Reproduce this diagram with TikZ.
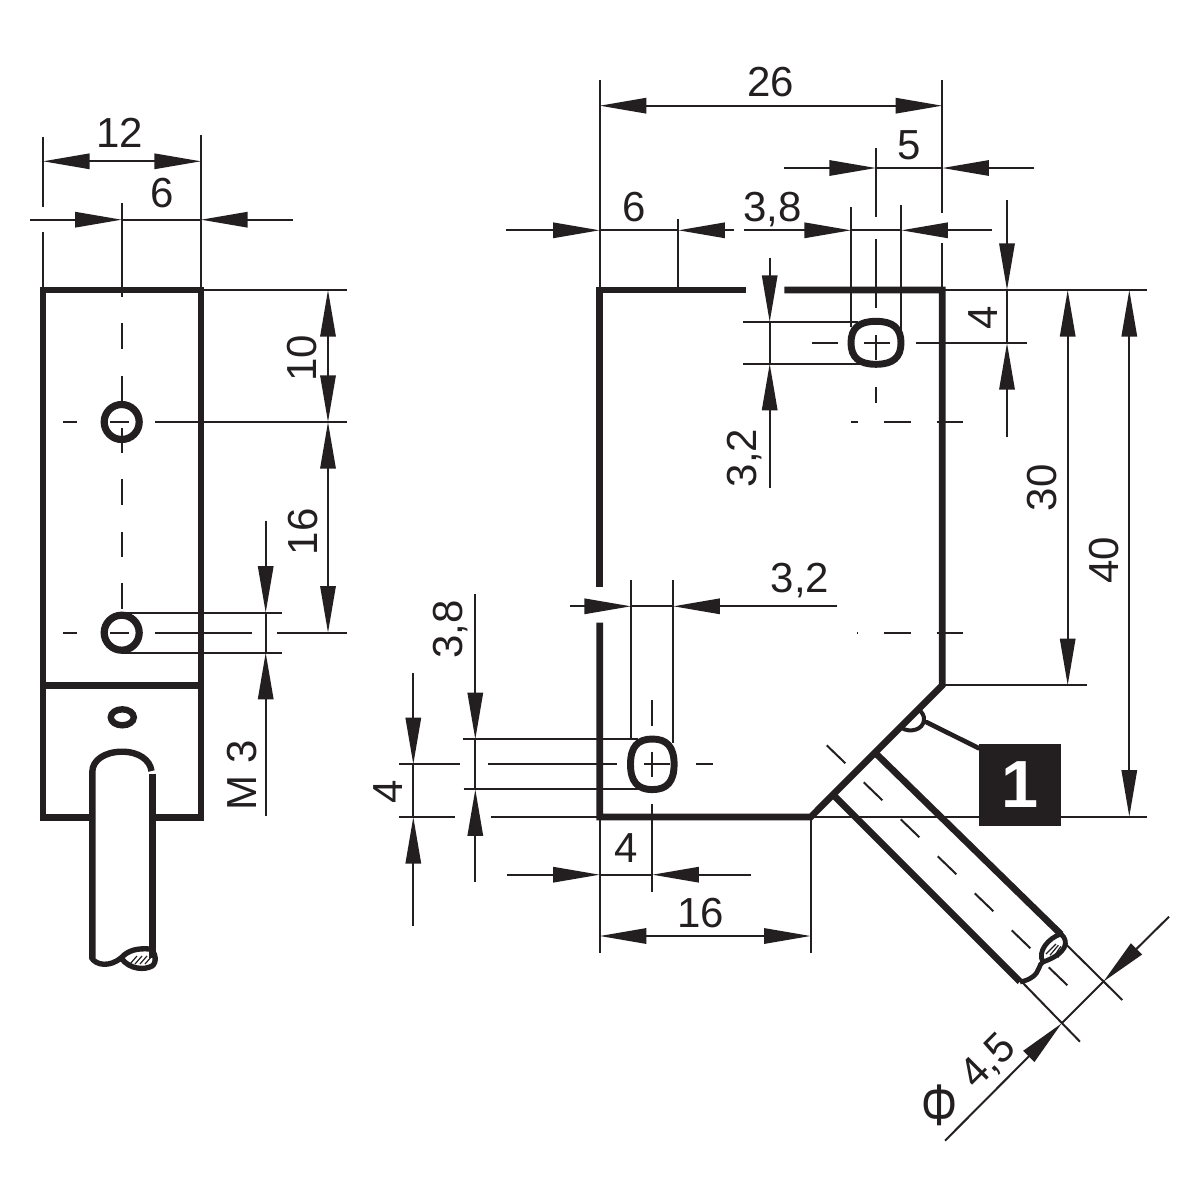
\documentclass[tikz,border=0pt]{standalone}
\usepackage{fontspec}
\usepackage{graphicx}
\setmainfont{Liberation Sans}
\usetikzlibrary{arrows.meta}
\definecolor{inkc}{HTML}{231F20}
\tikzset{
  outl/.style={line width=5pt,line cap=butt,line join=miter},
  thn/.style={line width=1.5pt},
  dimln/.style={line width=1.5pt,>={Triangle[length=35pt,width=11.5pt]}},
  slot/.style={line width=5.2pt},
  lbl/.style={inner sep=0pt,font=\fontsize{31.5}{34}\selectfont},
  lblv/.style={lbl,rotate=90},
  badge/.style={fill=inkc,text=white,inner sep=0pt,minimum size=61.5pt,font=\fontsize{50}{52}\bfseries\selectfont}
}
\begin{document}
\begin{tikzpicture}[x=0.75pt,y=0.75pt,yscale=-1,xscale=1,color=inkc]
\useasboundingbox (0,0) rectangle (1200,1200);

%Side view: extension lines
\draw [thn] (43,137) -- (43,207) (43,232) -- (43,290);
\draw [thn] (201,135) -- (201,290) -- (347,290);
\draw [thn] (121.7,203) -- (121.7,297);
\foreach \ya/\yb in {323/349,376/403,428/453,479/505,532/557,583/609}
  \draw [thn] (121.7,\ya) -- (121.7,\yb);
\foreach \yc in {422,632.7} {
  \draw [thn] (63,\yc) -- (77,\yc);
  \draw [thn] (110,\yc) -- (129,\yc);
}
\draw [thn] (155,422) -- (347,422);
\draw [thn] (155,632.7) -- (252,632.7) (277,632.7) -- (347,632.7);
\draw [thn] (121,612.7) -- (282,612.7) (121,652.7) -- (282,652.7);

%Side view: dimensions
\draw [dimln,<->] (43,161.3) -- (201,161.3);
\draw [dimln,->] (30,219.7) -- (121.7,219.7);
\draw [dimln] (121.7,219.7) -- (201,219.7);
\draw [dimln,->] (293,219.7) -- (201,219.7);
\draw [dimln,<->] (328,290) -- (328,422);
\draw [dimln,<->] (328,422) -- (328,632.7);
\draw [dimln,->] (265.7,520.7) -- (265.7,612.7);
\draw [dimln] (265.7,612.7) -- (265.7,652.7);
\draw [dimln,->] (265.7,816) -- (265.7,652.7);

%Side view: body
\draw [outl] (92.3,817.3) -- (43,817.3) -- (43,290) -- (201,290) -- (201,817.3) -- (152.3,817.3);
\draw [outl] (43,685.7) -- (201,685.7);
\draw [line width=5.4pt] (121.7,422) circle [radius=17.5];
\draw [line width=5.4pt] (121.7,632.7) circle [radius=17.5];
\draw [line width=4.8pt] (122.3,717.3) ellipse [x radius=11.5,y radius=8];

%Side view: cable
\draw [line width=4.8pt] (92.3,958) -- (92.3,772) .. controls (92.3,760) and (105,751.7) .. (122,751.7) .. controls (139,751.7) and (150,760) .. (151.5,771);
\draw [line width=4.8pt] (152.3,773.5) -- (152.3,958);
\draw [line width=4pt] (91,957) .. controls (96,966) and (110,967) .. (121,958) .. controls (128,950) and (138,948) .. (150,949) .. controls (156,952) and (157,963) .. (152,966) .. controls (145,970) and (130,970) .. (121,958);
\foreach \xh in {130,135,140,145}
  \draw [line width=0.9pt] (\xh,964) -- (\xh+7,956);

%Front view: extension lines
\draw [thn] (599.7,80) -- (599.7,290) (599.7,817) -- (599.7,953);
\draw [thn] (942.3,80) -- (942.3,213) (942.3,243) -- (942.3,290) -- (1147,290);
\draw [thn] (678.3,219) -- (678.3,290);
\draw [thn] (851,207) -- (851,327) (901.3,205) -- (901.3,330);
\draw [thn] (876,148) -- (876,217) (876,239) -- (876,308) (876,335) -- (876,360) (876,387) -- (876,403);
\draw [thn] (812,343) -- (838,343) (864,343) -- (890,343) (916,343) -- (1027,343);
\draw [thn] (743.3,322) -- (858,322) (743.3,363.7) -- (860,363.7);
\draw [thn] (851,422) -- (858,422) (884,422) -- (910.7,422) (936.7,422) -- (962.7,422);
\draw [thn] (857,632.7) -- (858,632.7) (884,632.7) -- (910.7,632.7) (936.7,632.7) -- (962.7,632.7);
\draw [thn] (942.3,685.3) -- (1086.7,685.3);
\draw [thn] (810.7,817) -- (1147,817) (810.7,817) -- (810.7,953);
\draw [thn] (631,580) -- (631,740) (673.3,580) -- (673.3,743);
\draw [thn] (652.3,700) -- (652.3,726) (652.3,751.7) -- (652.3,777.3) (652.3,804.3) -- (652.3,892.3);
\draw [thn] (399,764.3) -- (460,764.3) (488.3,764.3) -- (617.3,764.3) (644,764.3) -- (670,764.3) (696,764.3) -- (713.3,764.3);
\draw [thn] (399,817) -- (455,817) (490.7,817) -- (599.7,817);
\draw [thn] (462.7,739.3) -- (638,739.3) (463.7,789.3) -- (640,789.3);

%Front view: dimensions
\draw [dimln,<->] (599.7,105.7) -- (942.3,105.7);
\draw [dimln,->] (784.3,168) -- (876,168);
\draw [dimln] (876,168) -- (942.3,168);
\draw [dimln,->] (1034,168) -- (942.3,168);
\draw [dimln,->] (506,230.3) -- (599.7,230.3);
\draw [dimln] (599.7,230.3) -- (678.3,230.3);
\draw [dimln,->] (734.3,230.3) -- (678.3,230.3);
\draw [dimln,->] (744,230.3) -- (851,230.3);
\draw [dimln] (851,230.3) -- (901.3,230.3);
\draw [dimln,->] (992,230.3) -- (901.3,230.3);
\draw [dimln,->] (769.7,257.7) -- (769.7,322);
\draw [dimln] (769.7,322) -- (769.7,363.7);
\draw [dimln,->] (769.7,487.7) -- (769.7,363.7);
\draw [dimln,->] (1007,200) -- (1007,290);
\draw [dimln] (1007,290) -- (1007,343);
\draw [dimln,->] (1007,437.3) -- (1007,343);
\draw [dimln,<->] (1067.7,290) -- (1067.7,685.3);
\draw [dimln,<->] (1129.3,290) -- (1129.3,816.7);
\draw [dimln,->] (570,606.3) -- (631,606.3);
\draw [dimln] (631,606.3) -- (673.3,606.3);
\draw [dimln,->] (837.3,606.3) -- (673.3,606.3);
\draw [dimln,->] (413.3,673.3) -- (413.3,764.3);
\draw [dimln] (413.3,764.3) -- (413.3,817);
\draw [dimln,->] (413.3,925.7) -- (413.3,817);
\draw [dimln,->] (475.3,594) -- (475.3,739.3);
\draw [dimln] (475.3,739.3) -- (475.3,789.3);
\draw [dimln,->] (475.3,881.7) -- (475.3,789.3);
\draw [dimln,->] (507.3,874.7) -- (599.7,874.7);
\draw [dimln] (599.7,874.7) -- (652.3,874.7);
\draw [dimln,->] (750.7,874.7) -- (652.3,874.7);
\draw [dimln,<->] (599.7,936) -- (810.7,936);

%Front view: body
\draw [outl] (599.7,586.7) -- (599.7,290) -- (746,290);
\draw [outl] (784.3,290) -- (942.3,290) -- (942.3,685.3) -- (810.7,817) -- (599.7,817) -- (599.7,622.7);
\draw [slot] (851,342.8) .. controls (851,328.2) and (859,321.3) .. (876,321.3) .. controls (893,321.3) and (901,328.2) .. (901,342.8) .. controls (901,357.4) and (893,364.3) .. (876,364.3) .. controls (859,364.3) and (851,357.4) .. (851,342.8) -- cycle;
\draw [slot] (630.5,764.3) .. controls (630.5,747.1) and (637.5,739) .. (652.3,739) .. controls (667.1,739) and (674.1,747.1) .. (674.1,764.3) .. controls (674.1,781.5) and (667.1,789.6) .. (652.3,789.6) .. controls (637.5,789.6) and (630.5,781.5) .. (630.5,764.3) -- cycle;
\draw [line width=3pt] (901.7,728) .. controls (910,733) and (923,730) .. (924,720) .. controls (924.5,716) and (922,712) .. (919,710);
\draw [line width=3.5pt,line cap=round] (926.7,722.3) -- (979,748.3);

%Front view: cable
\draw [outl] (875.7,753.3) -- (1061,934.3);
\draw [outl] (835,796.7) -- (1020,981.7);
\draw [line width=3.6pt] (1020,982) .. controls (1030,980) and (1037,975) .. (1039,968) .. controls (1040,965) and (1041,963) .. (1043,962) .. controls (1037,952) and (1048,938) .. (1061,934) .. controls (1069,941) and (1068,953) .. (1043,962);
\foreach \dh in {0,4,8,12}
  \draw [line width=0.9pt] (1046+\dh,954+\dh*0.3) -- (1056+\dh*0.6,944+\dh*0.3);
\foreach \i in {0,...,6}
  \draw [thn] (826.7+37*\i,745.3+37*\i) -- ++(18.7,18);
\draw [thn] (1065,943.3) -- (1122.3,1000) (1021.7,981.7) -- (1080,1041.7);
\draw [dimln,->] (1169,916.7) -- (1103.3,981.7);
\draw [dimln] (1103.3,981.7) -- (1061.7,1023.3);
\draw [dimln,->] (945,1140.7) -- (1061.7,1023.3);

% Text Node
\node [lbl] (sideA) at (120,133) {12};
\node [lbl] (sideB) at (162,193) {6};
\node [lblv] (sideC) at (302,358) {10};
\node [lblv] (sideD) at (303,531.7) {16};
\node [lblv] (sideE) at (241.7,775) {M 3};
\node [lbl] (frontA) at (770.7,81.7) {26};
\node [lbl] (frontB) at (909,145) {5};
\node [lbl] (frontC) at (634.3,206.7) {6};
\node [lbl] (frontD) at (772.3,210) {3,8};
\node [lblv] (frontE) at (744.7,458) {3,2};
\node [lblv] (frontF) at (983.3,318) {4};
\node [lblv] (frontG) at (1042,487.7) {30};
\node [lblv] (frontH) at (1104,560) {40};
\node [lbl] (frontI) at (800,580.7) {3,2};
\node [lblv] (frontJ) at (450.3,629.3) {3,8};
\node [lblv] (frontK) at (388,791.7) {4};
\node [lbl] (frontL) at (626,848.3) {4};
\node [lbl] (frontM) at (700.7,913.3) {16};
\node [lbl,rotate=45] (frontN) at (988.7,1062) {4,5};
\node [inner sep=0pt,font=\fontsize{44}{46}\selectfont] (frontO) at (939.3,1105.7) {\scalebox{.77}[1]{Φ}};
\node [badge] (mark) at (1020,784.8) {1};

\end{tikzpicture}
\end{document}
